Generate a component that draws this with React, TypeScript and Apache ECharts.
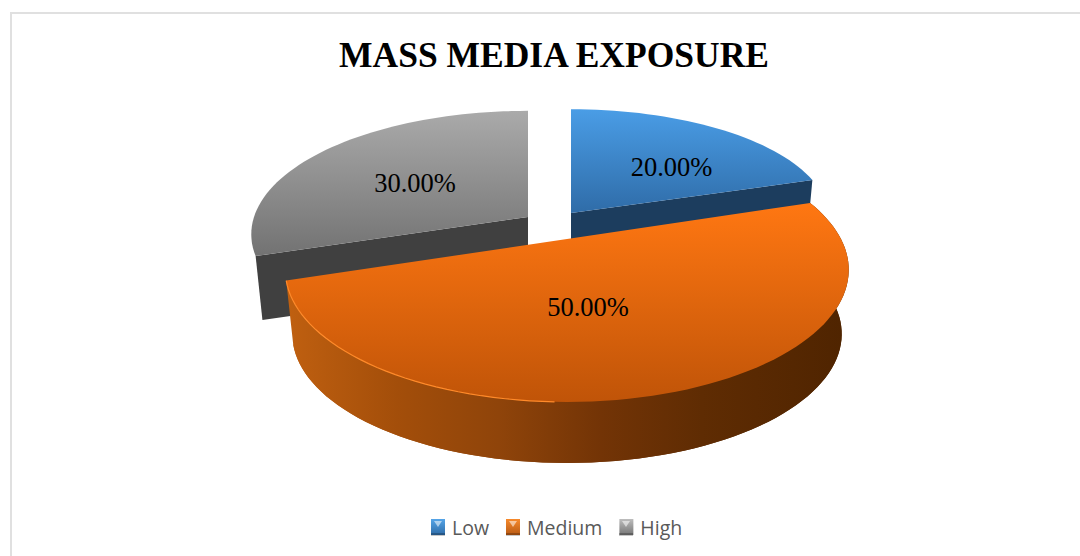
import React, { useEffect, useRef } from "react";
import * as echarts from "echarts";

const TITLE = "MASS MEDIA EXPOSURE";
const categories = ["Low", "Medium", "High"];
const shares = [20, 50, 30];
const percentLabels = ["20.00%", "50.00%", "30.00%"];

// Geometry of the tilted disc, slice by slice
const DEPTH = 65;
const BOTTOM_SCALE = 0.975;
const sliceAnchors = [
  { x: 571, y: 213, lx: 100.5, ly: -46, rx: 257, ry: 108, k: 0.041 },
  { x: 567, y: 239, lx: 21, ly: 68, rx: 274, ry: 125, k: 0.233 },
  { x: 528, y: 217, lx: -113, ly: -34, rx: 274, ry: 121, k: 0.14 },
];
const topColors = [
  ["#4a9de6", "#2f6ca8", 109, 213],
  ["#ff7712", "#c05408", 203, 402],
  ["#aaaaaa", "#737373", 111, 254],
];
const wallStops = [
  [["#1c3d5e", 0], ["#1c3d5e", 1]],
  [["#c06010", 0], ["#a34e0a", 0.2], ["#8f440a", 0.38], ["#733406", 0.56], ["#5f2c03", 0.74], ["#4f2400", 1]],
  [["#404040", 0], ["#404040", 1]],
];
const legendColors = [
  ["#55a5e8", "#2f6ca8"],
  ["#f78a2c", "#b85a14"],
  ["#bdbdbd", "#767676"],
];
const legendIconLefts = [431, 506, 619];

const vGrad = (c0: string, c1: string, y0: number, y1: number) => ({
  type: "linear",
  global: true,
  x: 0,
  y: y0,
  x2: 0,
  y2: y1,
  colorStops: [
    { offset: 0, color: c0 },
    { offset: 1, color: c1 },
  ],
});

const project = (deg: number, a: { rx: number; ry: number; k: number }) => {
  const t = (deg * Math.PI) / 180;
  const X = Math.sin(t);
  const Y = -Math.cos(t);
  const w = 1 - a.k * Y;
  return [(a.rx * X) / w, (a.ry * Y) / w];
};

const total = shares.reduce((a, b) => a + b, 0);
const startAngle = (i: number) =>
  (shares.slice(0, i).reduce((a, b) => a + b, 0) / total) * 360;

function renderSlice(i: number) {
  return () => {
    const a0 = startAngle(i);
    const a1 = a0 + (shares[i] / total) * 360;
    const anchor = sliceAnchors[i];
    const rel: number[][] = [];
    const n = Math.ceil((a1 - a0) / 2);
    for (let k = 0; k <= n; k++) rel.push(project(a0 + ((a1 - a0) * k) / n, anchor));
    const top = rel.map(([x, y]) => [anchor.x + x, anchor.y + y]);
    const bot = rel.map(([x, y]) => [
      anchor.x + x * BOTTOM_SCALE,
      anchor.y + y * BOTTOM_SCALE + DEPTH,
    ]);
    const ap = [anchor.x, anchor.y];
    const apB = [anchor.x, anchor.y + DEPTH];
    const stops = wallStops[i];
    const wallFill = {
      type: "linear",
      global: true,
      x: 285,
      y: 0,
      x2: 848,
      y2: 0,
      colorStops: stops.map(([color, offset]) => ({ offset, color })),
    };
    const wall = (points: number[][]) => ({
      type: "polygon",
      shape: { points },
      style: { fill: wallFill },
    });
    const [c0, c1, y0, y1] = topColors[i] as [string, string, number, number];
    // Only the cut face that looks towards the viewer is seen on the back slices
    const walls =
      i === 1
        ? [wall([apB, ...bot]), wall([...top, ...bot.slice().reverse()])]
        : i === 0
          ? [wall([ap, top[n], bot[n], apB])]
          : [wall([ap, top[0], bot[0], apB])];
    const children: any[] = [
      ...walls,
      {
        type: "polygon",
        shape: { points: [ap, ...top] },
        style: { fill: vGrad(c0, c1, y0, y1) },
      },
    ];
    if (i === 1) {
      children.push({
        type: "polyline",
        shape: { points: top.filter((_, k) => a0 + ((a1 - a0) * k) / n > 180) },
        style: { fill: "none", stroke: "#ff8a2a", lineWidth: 1.2 },
      });
    }
    children.push({
      type: "text",
      x: anchor.x + anchor.lx,
      y: anchor.y + anchor.ly,
      style: {
        text: percentLabels[i],
        font: '26.5px "Liberation Serif"',
        fill: "#000000",
        align: "center",
        verticalAlign: "middle",
      },
    });
    return { type: "group", children };
  };
}

export default function App() {
  const ref = useRef<HTMLDivElement>(null);
  useEffect(() => {
    document.body.style.margin = "0";
    const chart = echarts.init(ref.current!, null, { renderer: "svg" });
    const iconMarks = legendIconLefts.flatMap((x) => [
      {
        type: "polygon",
        silent: true,
        z: 100,
        shape: { points: [[x + 3, 521], [x + 11, 521], [x + 7, 527]] },
        style: { fill: "rgba(255,255,255,0.55)" },
      },
      {
        type: "rect",
        silent: true,
        z: 100,
        shape: { x, y: 533, width: 14, height: 3 },
        style: { fill: "rgba(0,0,0,0.22)" },
      },
    ]);
    chart.setOption({
      animation: false,
      backgroundColor: "#ffffff",
      title: {
        text: TITLE,
        left: 549,
        top: 32,
        textAlign: "center",
        textStyle: {
          fontFamily: "Liberation Serif",
          fontWeight: "bold",
          fontSize: 35.5,
          color: "#000000",
        },
      },
      graphic: [
        {
          type: "rect",
          silent: true,
          shape: { x: 11, y: 13, width: 1200, height: 700 },
          style: { fill: "none", stroke: "#e0e0e0", lineWidth: 2 },
          z: -1,
        },
        ...iconMarks,
      ],
      legend: {
        left: 426,
        top: 512,
        itemWidth: 14,
        itemHeight: 16,
        itemGap: 17,
        icon: "rect",
        textStyle: { fontFamily: "Open Sans", fontSize: 19.5, color: "#595959", padding: [0, 0, 0, 2] },
        data: categories.map((name, i) => ({
          name,
          itemStyle: {
            color: {
              type: "linear",
              x: 0,
              y: 0,
              x2: 0,
              y2: 1,
              colorStops: [
                { offset: 0, color: legendColors[i][0] },
                { offset: 1, color: legendColors[i][1] },
              ],
            },
          },
        })),
      },
      series: categories.map((name, i) => ({
        type: "custom",
        name,
        coordinateSystem: "none",
        z: i === 1 ? 3 : 2,
        silent: true,
        itemStyle: { color: legendColors[i][1] },
        data: [shares[i]],
        renderItem: renderSlice(i),
      })),
    });
    return () => chart.dispose();
  }, []);
  return <div ref={ref} style={{ width: 1080, height: 556 }} />;
}
